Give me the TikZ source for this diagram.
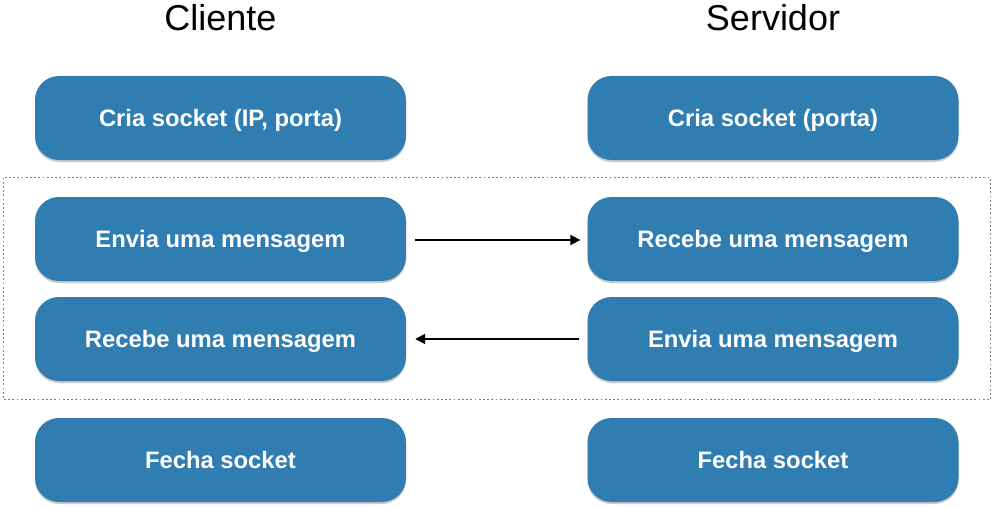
\documentclass[tikz,border=0pt]{standalone}
\usepackage{fontspec}
\setmainfont{Liberation Sans}
\usetikzlibrary{arrows.meta,shadows}
\definecolor{boxblue}{HTML}{2F7DB1}
\definecolor{dotgray}{HTML}{808080}
\tikzset{
  stepbox/.style={rounded corners=24pt, fill=boxblue, draw=none,
    minimum width=371pt, minimum height=84pt, inner sep=0pt,
    text height=17pt, text depth=0pt,
    text=white, font=\fontsize{23.8}{28}\selectfont\bfseries,
    drop shadow={shadow xshift=0pt, shadow yshift=-2pt, opacity=0.35, fill=black!60}},
  title/.style={font=\fontsize{36}{40}\selectfont, text=black, inner sep=0pt},
  msg/.style={line width=1.8pt, -{Triangle[length=10pt,width=10pt]}},
  group/.style={draw=dotgray, line width=1.8pt, dash pattern=on 1.8pt off 2.4pt}
}
\begin{document}
\begin{tikzpicture}[x=1pt,y=-1pt]
\useasboundingbox (0,0) rectangle (995,508);
\node[title] (tc) at (220.5,18) {Cliente};
\node[title] (ts) at (773,18) {Servidor};
\draw[group] (3.5,177.5) rectangle (990.5,399.5);
\node[stepbox] (c1) at (220.5,118) {Cria socket (IP, porta)};
\node[stepbox] (c2) at (220.5,239) {Envia uma mensagem};
\node[stepbox] (c3) at (220.5,339) {Recebe uma mensagem};
\node[stepbox] (c4) at (220.5,460) {Fecha socket};
\node[stepbox] (s1) at (773,118) {Cria socket (porta)};
\node[stepbox] (s2) at (773,239) {Recebe uma mensagem};
\node[stepbox] (s3) at (773,339) {Envia uma mensagem};
\node[stepbox] (s4) at (773,460) {Fecha socket};
\draw[msg] ([xshift=9pt,yshift=-1pt]c2.east) -- ([xshift=-7pt,yshift=-1pt]s2.west);
\draw[msg] ([xshift=-8pt]s3.west) -- ([xshift=9pt]c3.east);
\end{tikzpicture}
\end{document}
